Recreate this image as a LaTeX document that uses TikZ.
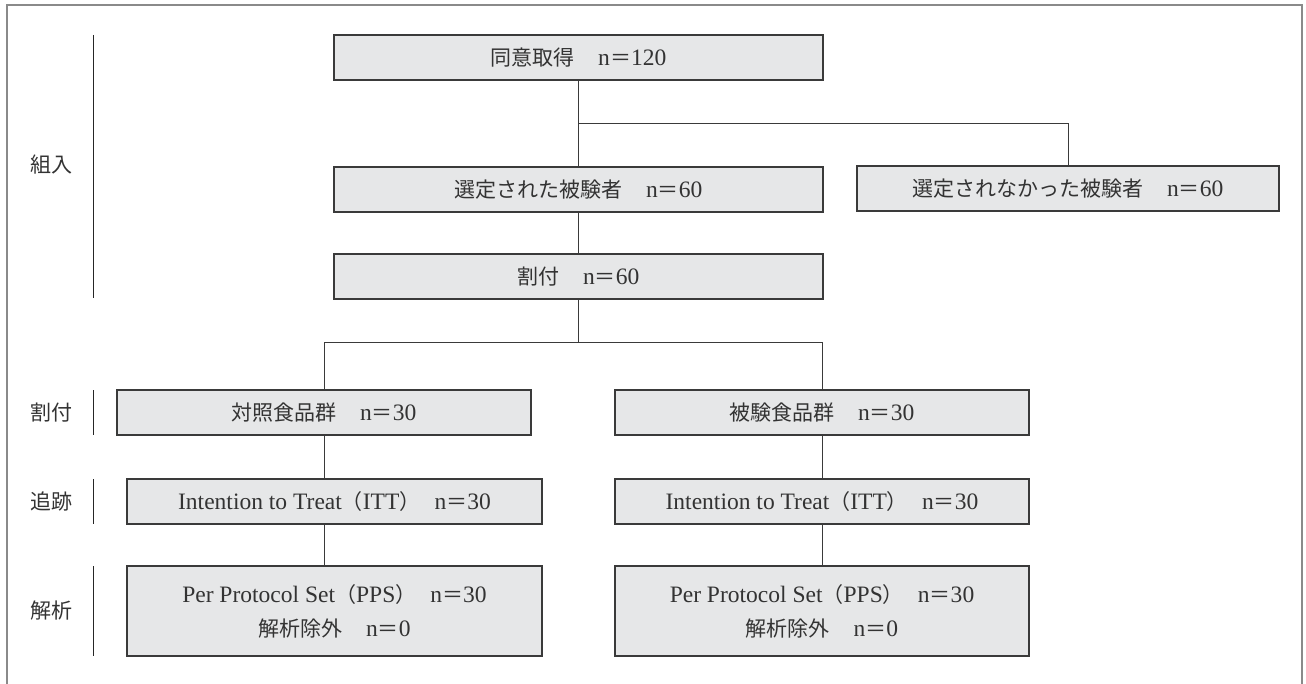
\documentclass[tikz,border=0pt]{standalone}
\usepackage{fontspec}
\usetikzlibrary{calc}
\setmainfont{Liberation Serif}[Scale=1.12]
\newfontfamily\jp{Noto Sans CJK JP}
\newcommand{\cnt}[1]{n{\jp ＝}#1}
\newcommand{\pp}[1]{{\jp （}#1{\jp ）}}
\definecolor{boxfill}{HTML}{E6E7E8}
\definecolor{boxline}{HTML}{3A3A3A}
\definecolor{txt}{HTML}{333333}
\definecolor{framec}{HTML}{8A8A8A}
\begin{document}
\begin{tikzpicture}[x=0.5pt,y=-0.5pt,
  box/.style={draw=boxline, fill=boxfill, line width=0.6pt, rectangle,
    inner sep=0pt, minimum height=22.5pt, text=txt, align=center,
    font=\fontsize{10.5}{17}\selectfont},
  wide/.style={minimum width=244.5pt},
  mid/.style={minimum width=207pt},
  conn/.style={draw=boxline, line width=0.5pt},
  bar/.style={draw=black!85, line width=0.5pt},
  side/.style={text=txt, font=\fontsize{10.5}{13}\jp, inner sep=0pt}]
\useasboundingbox (0,0) rectangle (1306,684);
% frame
\draw[framec, line width=0.8pt] (7,684) -- (7,5) -- (1302,5) -- (1302,684);

% boxes
\node[box, wide] (consent) at (578.5,57.5) {{\jp 同意取得}\hspace{1em}\cnt{120}};
\node[box, wide] (sel) at (578.5,189.5) {{\jp 選定された被験者}\hspace{1em}\cnt{60}};
\node[box, minimum width=211pt] (nsel) at (1068,188.5) {{\jp 選定されなかった被験者}\hspace{1em}\cnt{60}};
\node[box, wide] (alloc) at (578.5,276.5) {{\jp 割付}\hspace{1em}\cnt{60}};
\node[box, mid] (ctrl) at (324,412.5) {{\jp 対照食品群}\hspace{1em}\cnt{30}};
\node[box, mid] (test) at (822,412.5) {{\jp 被験食品群}\hspace{1em}\cnt{30}};
\node[box, minimum width=207.5pt] (ittL) at (334.5,501.5) {Intention to Treat\pp{ITT}\hspace{0.6em}\cnt{30}};
\node[box, mid] (ittR) at (822,501.5) {Intention to Treat\pp{ITT}\hspace{0.6em}\cnt{30}};
\node[box, minimum width=207.5pt, minimum height=45pt] (ppsL) at (334.5,611) {Per Protocol Set\pp{PPS}\hspace{0.6em}\cnt{30}\\{\jp 解析除外}\hspace{1em}\cnt{0}};
\node[box, mid, minimum height=45pt] (ppsR) at (822,611) {Per Protocol Set\pp{PPS}\hspace{0.6em}\cnt{30}\\{\jp 解析除外}\hspace{1em}\cnt{0}};

% connectors
\draw[conn] (consent.south) -- (sel.north);
\draw[conn] ($(consent.south)!0.5!(sel.north)$) -| (nsel.north);
\draw[conn] (sel.south) -- (alloc.north);
\coordinate (split) at ($(alloc.south)+(0,43)$);
\draw[conn] (alloc.south) -- (split);
\draw[conn] (split) -| (ctrl.north);
\draw[conn] (split) -| (test.north);
\draw[conn] (ctrl.south) -- (ctrl.south |- ittL.north);
\draw[conn] (test.south) -- (ittR.north);
\draw[conn] (ctrl.south |- ittL.south) -- (ctrl.south |- ppsL.north);
\draw[conn] (ittR.south) -- (ppsR.north);

% stage labels and bars
\node[side] (l1) at (52,165) {組入};
\node[side] (l2) at (52,412.5) {割付};
\node[side] (l3) at (52,501.5) {追跡};
\node[side] (l4) at (52,611) {解析};
\draw[bar] (93,35) -- (93,298);
\draw[bar] (93,390) -- (93,435);
\draw[bar] (93,479) -- (93,524);
\draw[bar] (93,566) -- (93,656);
\end{tikzpicture}
\end{document}
